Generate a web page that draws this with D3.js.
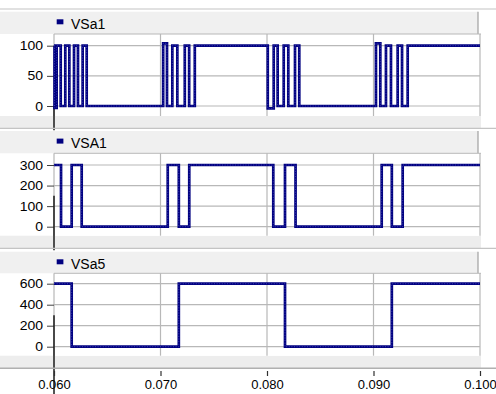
<!DOCTYPE html>
<html>
<head>
<meta charset="utf-8">
<script src="https://cdn.jsdelivr.net/npm/d3@7"></script>
<style>
  html, body { margin: 0; padding: 0; background: #ffffff; }
  svg { display: block; font-family: "Liberation Sans", Arial, sans-serif; }
</style>
</head>
<body>
<svg id="chart" width="496" height="394"></svg>
<script>
// Time axis (seconds)
const timeDomain = [0.060, 0.100];
const timeTicks = [0.060, 0.070, 0.080, 0.090, 0.100];
const timeTickLabels = ["0.060", "0.070", "0.080", "0.090", "0.100"];

// VSa1: switching instants (s) and the level held from each instant on
const vSa1Edges = [0.06000, 0.06005, 0.06025, 0.06063, 0.06106, 0.06144, 0.06188, 0.06225, 0.06269, 0.06307,
                   0.07025, 0.07061, 0.07111, 0.07158, 0.07228, 0.07269, 0.07322,
                   0.08007, 0.08063, 0.08100, 0.08157, 0.08200, 0.08263, 0.08303,
                   0.09023, 0.09064, 0.09117, 0.09164, 0.09227, 0.09268, 0.09321];
const vSa1Levels = [100, -3, 100, 0, 100, 0, 100, 0, 100, 0,
                    104, 0, 100, 0, 100, 0, 100,
                    -4, 100, 0, 100, 0, 100, 0,
                    104, 0, 100, 0, 100, 0, 100];
const vSa1Ticks = [0, 50, 100];

// VSA1
const vSA1Edges = [0.06000, 0.06066, 0.06166, 0.06260, 0.07068, 0.07172, 0.07270,
                   0.08059, 0.08169, 0.08268, 0.09077, 0.09172, 0.09274];
const vSA1Levels = [300, 0, 300, 0, 300, 0, 300, 0, 300, 0, 300, 0, 300];
const vSA1Ticks = [0, 100, 200, 300];

// VSa5
const vSa5Edges = [0.06000, 0.06166, 0.07172, 0.08169, 0.09172];
const vSa5Levels = [600, 0, 600, 0, 600];
const vSa5Ticks = [0, 200, 400, 600];

const seriesNames = ["VSa1", "VSA1", "VSa5"];

// Layout of the three stacked panels
const W = 496, H = 394;
const plotLeft = 54, plotRight = 480, headRight = 478;
const layout = [
  { sep: 9,     headTop: 11.7,  top: 34,    bottom: 116,   bandEnd: 128.3, zeroY: 106,   refY: 45.7,  refVal: 100, cursorFrom: 0 },
  { sep: 128.3, headTop: 131,   top: 153.3, bottom: 235.7, bandEnd: 248.3, zeroY: 226.7, refY: 165,   refVal: 300, cursorFrom: 150 },
  { sep: 248.3, headTop: 251.7, top: 273.3, bottom: 355.7, bandEnd: 368.3, zeroY: 346.7, refY: 283.7, refVal: 600, cursorFrom: 300 }
];
const seriesData = [
  { edges: vSa1Edges, levels: vSa1Levels, ticks: vSa1Ticks },
  { edges: vSA1Edges, levels: vSA1Levels, ticks: vSA1Ticks },
  { edges: vSa5Edges, levels: vSa5Levels, ticks: vSa5Ticks }
];

const navy = "#000080";
const panelGray = "#f0f0f0";
const gridGray = "#b8b8b8";

const svg = d3.select("#chart");
const x = d3.scaleLinear().domain(timeDomain).range([plotLeft, plotRight]);

svg.append("rect").attr("x", 0).attr("y", 0).attr("width", W).attr("height", H).attr("fill", "#ffffff");

layout.forEach((p, i) => {
  const s = seriesData[i];
  const y = d3.scaleLinear().domain([0, p.refVal]).range([p.zeroY, p.refY]);
  const g = svg.append("g");

  // separator line above the panel
  g.append("line").attr("x1", 0).attr("x2", W).attr("y1", p.sep).attr("y2", p.sep)
    .attr("stroke", "#c4c4c4").attr("stroke-width", 1.2);

  // header strip with the legend
  g.append("rect").attr("x", 0).attr("y", p.headTop)
    .attr("width", headRight).attr("height", p.top - p.headTop).attr("fill", panelGray);
  g.append("line").attr("x1", headRight).attr("x2", headRight).attr("y1", p.headTop).attr("y2", p.top)
    .attr("stroke", "#a0a0a0").attr("stroke-width", 1.2);

  // band under the plot
  g.append("rect").attr("x", 0).attr("y", p.bottom)
    .attr("width", plotRight + 1).attr("height", p.bandEnd - p.bottom).attr("fill", "#ededed");

  // plot area
  g.append("rect").attr("x", plotLeft).attr("y", p.top)
    .attr("width", plotRight - plotLeft).attr("height", p.bottom - p.top).attr("fill", "#ffffff");
  g.append("line").attr("x1", plotLeft).attr("x2", plotRight + 1).attr("y1", p.top).attr("y2", p.top)
    .attr("stroke", gridGray).attr("stroke-width", 1);

  // grid
  g.append("g").selectAll("line.h").data(s.ticks).join("line")
    .attr("x1", plotLeft).attr("x2", plotRight)
    .attr("y1", d => y(d)).attr("y2", d => y(d))
    .attr("stroke", gridGray).attr("stroke-width", 1.2);
  g.append("g").selectAll("line.v").data(timeTicks).join("line")
    .attr("x1", d => x(d)).attr("x2", d => x(d))
    .attr("y1", p.top).attr("y2", p.bottom)
    .attr("stroke", gridGray).attr("stroke-width", 1.2);

  // y axis
  const ax = g.append("g").attr("transform", `translate(${plotLeft},0)`)
    .call(d3.axisLeft(y).tickValues(s.ticks).tickSize(7).tickPadding(4).tickFormat(d3.format("d")));
  ax.select(".domain").remove();
  ax.selectAll(".tick line").attr("stroke", "#404040").attr("stroke-width", 1);
  ax.selectAll(".tick text")
    .attr("fill", "#000").attr("font-size", 14)
    .attr("font-family", "'Liberation Sans', Arial, sans-serif")
    .attr("dy", "0.34em")
    .attr("transform", "scale(1,0.86)");

  // legend
  g.append("rect").attr("x", 56.7).attr("y", p.headTop + 7.6).attr("width", 6.7).attr("height", 5).attr("fill", navy);
  g.append("text").attr("x", 71).attr("y", p.headTop + 16.8)
    .attr("font-size", 14).attr("fill", "#000").text(seriesNames[i]);

  // cursor line at the start time
  g.append("line").attr("x1", x(timeDomain[0])).attr("x2", x(timeDomain[0]))
    .attr("y1", y(p.cursorFrom)).attr("y2", p.bandEnd + (i === 2 ? 30 : 2))
    .attr("stroke", "#1a1a1a").attr("stroke-width", 1.5);

  // trace
  const pts = s.edges.map((t, k) => [t, s.levels[k]]);
  pts.push([timeDomain[1], s.levels[s.levels.length - 1]]);
  const line = d3.line().x(d => x(d[0])).y(d => y(d[1])).curve(d3.curveStepAfter);
  g.append("path").datum(pts).attr("d", line)
    .attr("fill", "none").attr("stroke", navy).attr("stroke-width", 2.7)
    .attr("stroke-linejoin", "miter").attr("stroke-linecap", "butt");
  g.append("path").datum(pts).attr("d", line)
    .attr("fill", "none").attr("stroke", "#4848b8").attr("stroke-width", 0.8)
    .attr("stroke-dasharray", "1,1.6");
});

// shared time axis
svg.append("line").attr("x1", 0).attr("x2", W).attr("y1", 368.3).attr("y2", 368.3)
  .attr("stroke", "#b0b0b0").attr("stroke-width", 1.5);
const xa = svg.append("g").attr("transform", "translate(0,371)")
  .call(d3.axisBottom(x).tickValues(timeTicks).tickSize(5).tickPadding(4)
    .tickFormat((d, k) => timeTickLabels[k]));
xa.select(".domain").remove();
xa.selectAll(".tick line").attr("stroke", "#303030").attr("stroke-width", 1.2);
xa.selectAll(".tick text").attr("fill", "#000").attr("font-size", 13)
  .attr("font-family", "'Liberation Sans', Arial, sans-serif");
</script>
</body>
</html>
